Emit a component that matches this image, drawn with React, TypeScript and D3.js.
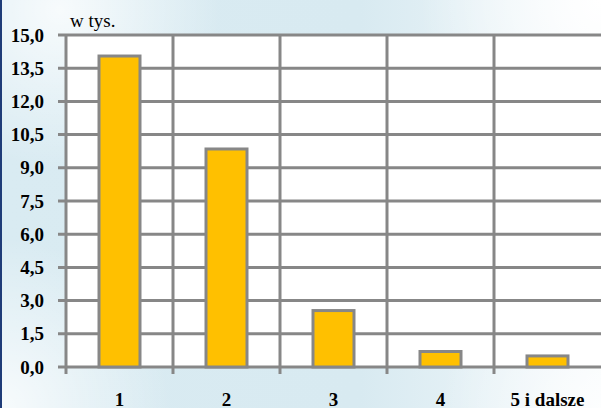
import React from "react";
import * as d3 from "d3";

const categories = ["1", "2", "3", "4", "5 i dalsze"];
const values = [14.05, 9.85, 2.55, 0.7, 0.5];
const yTicks = [0, 1.5, 3, 4.5, 6, 7.5, 9, 10.5, 12, 13.5, 15];
const unitLabel = "w tys.";

const W = 601;
const H = 408;
const left = 66;
const top = 35;
const bottom = 367;
const step = 107;
const FONT = "Liberation Serif";

export default function App() {
  const x = d3
    .scaleBand<string>()
    .domain(categories)
    .range([left, left + step * categories.length])
    .padding(0);
  const y = d3.scaleLinear().domain([0, 15]).range([bottom, top]);
  const bw = 41;
  const fmt = (v: number) => v.toFixed(1).replace(".", ",");
  const gridColor = "#878787";
  const right = left + step * categories.length;

  return (
    <svg
      width={W}
      height={H}
      style={{ position: "absolute", left: 0, top: 0 }}
      xmlns="http://www.w3.org/2000/svg"
    >
      <defs>
        <linearGradient id="bg" x1="0" y1="0" x2="1" y2="0">
          <stop offset="0" stopColor="#d9ebf2" />
          <stop offset="0.6" stopColor="#d8eaf1" />
          <stop offset="1" stopColor="#f4f9fb" />
        </linearGradient>
        <radialGradient id="glow1" cx="600" cy="0" r="180" gradientUnits="userSpaceOnUse">
          <stop offset="0" stopColor="#ffffff" stopOpacity="1" />
          <stop offset="1" stopColor="#ffffff" stopOpacity="0" />
        </radialGradient>
        <radialGradient id="glow2" cx="60" cy="10" r="160" gradientUnits="userSpaceOnUse">
          <stop offset="0" stopColor="#ffffff" stopOpacity="0.8" />
          <stop offset="1" stopColor="#ffffff" stopOpacity="0" />
        </radialGradient>
        <radialGradient id="glow3" cx="0" cy="408" r="170" gradientUnits="userSpaceOnUse">
          <stop offset="0" stopColor="#ffffff" stopOpacity="0.8" />
          <stop offset="1" stopColor="#ffffff" stopOpacity="0" />
        </radialGradient>
        <radialGradient id="glow4" cx="601" cy="408" r="160" gradientUnits="userSpaceOnUse">
          <stop offset="0" stopColor="#ffffff" stopOpacity="0.8" />
          <stop offset="1" stopColor="#ffffff" stopOpacity="0" />
        </radialGradient>
      </defs>
      <rect x={0} y={0} width={W} height={H} fill="url(#bg)" />
      <rect x={0} y={0} width={W} height={H} fill="url(#glow1)" />
      <rect x={0} y={0} width={W} height={H} fill="url(#glow2)" />
      <rect x={0} y={0} width={W} height={H} fill="url(#glow3)" />
      <rect x={0} y={0} width={W} height={H} fill="url(#glow4)" />
      <rect x={0} y={0} width={2} height={H} fill="#1f3c78" />

      <rect x={left} y={top} width={right - left} height={bottom - top} fill="#ffffff" />

      {yTicks.map((t) => (
        <line
          key={"h" + t}
          x1={left - 8}
          x2={right}
          y1={y(t)}
          y2={y(t)}
          stroke={gridColor}
          strokeWidth={3}
        />
      ))}
      {categories.map((c) => (
        <line
          key={"v" + c}
          x1={x(c)!}
          x2={x(c)!}
          y1={top}
          y2={bottom + 7}
          stroke={gridColor}
          strokeWidth={3}
        />
      ))}

      {categories.map((c, i) => {
        const cx = x(c)! + x.bandwidth() / 2;
        return (
          <rect
            key={"b" + c}
            x={cx - bw / 2}
            y={y(values[i])}
            width={bw}
            height={y(0) - y(values[i])}
            fill="#FFC000"
            stroke="#878787"
            strokeWidth={3}
          />
        );
      })}

      {yTicks.map((t) => (
        <text
          key={"yl" + t}
          x={44}
          y={y(t)}
          dy="0.35em"
          textAnchor="end"
          style={{ fontFamily: FONT, fontWeight: "bold", fontSize: "19px" }}
          fill="#000"
        >
          {fmt(t)}
        </text>
      ))}

      {categories.map((c) => (
        <text
          key={"xl" + c}
          x={x(c)! + x.bandwidth() / 2}
          y={406}
          textAnchor="middle"
          style={{ fontFamily: FONT, fontWeight: "bold", fontSize: "19px" }}
          fill="#000"
        >
          {c}
        </text>
      ))}

      <text
        x={70}
        y={27}
        style={{ fontFamily: FONT, fontSize: "19px" }}
        fill="#000"
      >
        {unitLabel}
      </text>
    </svg>
  );
}
